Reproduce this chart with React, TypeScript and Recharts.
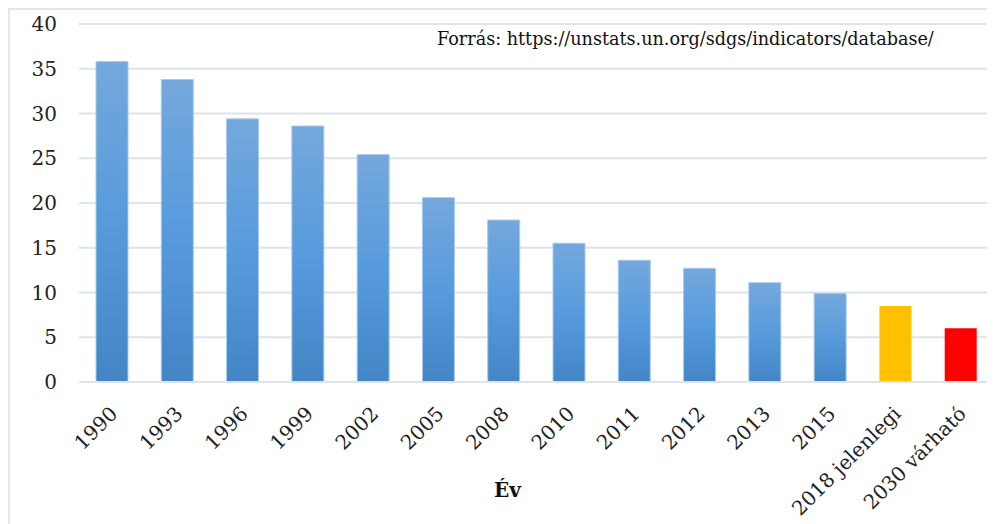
import { BarChart, Bar, XAxis, YAxis, CartesianGrid, Cell } from 'recharts';

const years = [
  '1990', '1993', '1996', '1999', '2002', '2005', '2008',
  '2010', '2011', '2012', '2013', '2015', '2018 jelenlegi', '2030 várható',
];
const values = [35.8, 33.8, 29.4, 28.6, 25.4, 20.6, 18.1, 15.5, 13.6, 12.7, 11.1, 9.9, 8.5, 6.0];
const yTicks = [0, 5, 10, 15, 20, 25, 30, 35, 40];
const source = 'Forrás: https://unstats.un.org/sdgs/indicators/database/';
const axisTitle = 'Év';

const specialColors: Record<string, string> = {
  '2018 jelenlegi': '#FFC000',
  '2030 várható': '#FF0000',
};

const data = years.map((year, i) => ({ year, value: values[i] }));

const FONT = '"DejaVu Serif", serif';

function XTick(props: any) {
  const { x, y, payload } = props;
  return (
    <g transform={`translate(${x + 7},${y + 33})`}>
      <text transform="rotate(-45)" textAnchor="end" fill="#222" fontSize={20} fontFamily={FONT}>
        {payload.value}
      </text>
    </g>
  );
}

export default function App() {
  return (
    <div
      style={{
        position: 'relative',
        width: 987,
        height: 516,
        boxSizing: 'border-box',
        borderTop: '2px solid #e3e6eb',
        borderLeft: '2px solid #e3e6eb',
      }}
    >
      <div style={{ position: 'absolute', left: -2, top: -2 }}>
        <BarChart
          width={987}
          height={516}
          data={data}
          margin={{ top: 16, right: 2, left: 0, bottom: 0 }}
        >
          <defs>
            <linearGradient id="blueGrad" x1="0" y1="0" x2="0" y2="1">
              <stop offset="0%" stopColor="#74a8dc" />
              <stop offset="50%" stopColor="#579bdd" />
              <stop offset="100%" stopColor="#4386c6" />
            </linearGradient>
          </defs>
          <CartesianGrid vertical={false} stroke="#dfe3ea" strokeWidth={2} />
          <XAxis
            dataKey="year"
            interval={0}
            height={142}
            tickLine={false}
            axisLine={{ stroke: '#dfe3ea', strokeWidth: 2 }}
            tickSize={0}
            tickMargin={0}
            tick={<XTick />}
          />
          <YAxis
            domain={[0, 40]}
            ticks={yTicks}
            width={71}
            axisLine={false}
            tickLine={false}
            tickSize={0}
            tickMargin={22}
            tick={{ fill: '#222', fontSize: 20, fontFamily: FONT }}
          />
          <Bar dataKey="value" barSize={32} isAnimationActive={false}>
            {data.map((d) => (
              <Cell
                key={d.year}
                fill={specialColors[d.year] ?? 'url(#blueGrad)'}
                stroke={specialColors[d.year] ? 'none' : '#a9c9ea'}
                strokeWidth={1}
              />
            ))}
          </Bar>
        </BarChart>
      </div>
      <div
        style={{
          position: 'absolute',
          left: 427,
          top: 21,
          fontFamily: FONT,
          fontSize: 17.6,
          color: '#111',
          whiteSpace: 'nowrap',
          lineHeight: 1,
        }}
      >
        {source}
      </div>
      <div
        style={{
          position: 'absolute',
          left: 484,
          top: 470,
          fontFamily: FONT,
          fontSize: 20,
          fontWeight: 'bold',
          color: '#111',
          lineHeight: 1,
        }}
      >
        {axisTitle}
      </div>
    </div>
  );
}
